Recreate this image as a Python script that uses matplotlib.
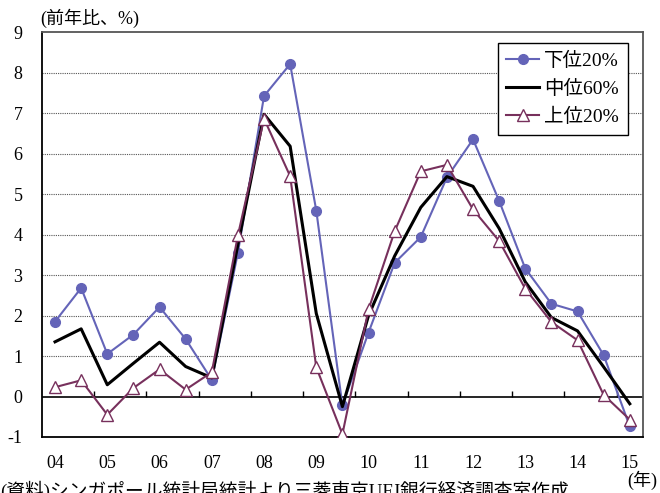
import numpy as np
import matplotlib.pyplot as plt

plt.rcParams['font.family'] = ['Liberation Serif', 'Noto Sans CJK JP']

# half-year points, 2004 - 2015
years = ["04", "05", "06", "07", "08", "09", "10", "11", "12", "13", "14", "15"]
lower20 = [1.85, 2.68, 1.05, 1.53, 2.21, 1.42, 0.41, 3.55, 7.42, 8.21, 4.59, -0.22,
           1.58, 3.30, 3.94, 5.41, 6.35, 4.83, 3.16, 2.29, 2.10, 1.02, -0.74]
middle60 = [1.35, 1.67, 0.29, 0.82, 1.34, 0.74, 0.46, 3.75, 6.97, 6.18, 2.05, -0.25,
            2.00, 3.47, 4.67, 5.43, 5.19, 4.15, 2.83, 1.95, 1.62, 0.73, -0.18]
upper20 = [0.23, 0.40, -0.45, 0.21, 0.67, 0.17, 0.60, 3.98, 6.86, 5.44, 0.72, -0.93,
           2.15, 4.08, 5.56, 5.72, 4.62, 3.84, 2.66, 1.84, 1.39, 0.04, -0.57]

x = np.arange(len(lower20))

fig = plt.figure(figsize=(6.6, 4.93), dpi=100)
ax = fig.add_axes([0.0636, 0.1136, 0.9104, 0.8214])

ax.plot(x, lower20, '-o', color='#6464b8', lw=1.5, ms=7, label='下位20%', zorder=3)
ax.plot(x, middle60, '-', color='black', lw=2.2, label='中位60%', zorder=4)
ax.plot(x, upper20, '-^', color='#77305c', lw=1.5, ms=8, mfc='white', mec='#77305c',
        label='上位20%', zorder=5)

ax.set_xlim(-0.5, len(x) - 0.5)
ax.set_ylim(-1, 9)
ax.set_yticks(range(-1, 10))
ax.set_yticklabels([str(v) for v in range(-1, 10)], fontsize=13)
ax.set_xticks(x[::2])
ax.set_xticklabels(years, fontsize=13)
ax.tick_params(axis='both', length=0)
ax.tick_params(axis='x', pad=13)
ax.tick_params(axis='y', pad=14)

for v in range(1, 9):
    ax.axhline(v, color='#555555', lw=0.8, ls=(0, (1, 1)), zorder=1)
ax.axhline(0, color='black', lw=1.2, zorder=2)
ax.vlines(x[1:-1:2] + 0.5, 0, 0.13, color='black', lw=1.0, zorder=2)

for s in ['left', 'bottom']:
    ax.spines[s].set_color('black')
    ax.spines[s].set_linewidth(1.3)
for s in ['top', 'right']:
    ax.spines[s].set_color('#555555')
    ax.spines[s].set_linewidth(1.3)

leg = ax.legend(loc='upper right', bbox_to_anchor=(0.975, 0.973), fontsize=14,
                fancybox=False, framealpha=1, edgecolor='black', handlelength=1.7,
                handletextpad=0.25, borderpad=0.45, borderaxespad=0,
                labelspacing=0.5, handleheight=0.8)
leg.get_frame().set_linewidth(1.0)

fig.text(40 / 660, 1 - 18 / 493, '(前年比、%)', fontsize=13, va='center', ha='left')
fig.text(627 / 660, 1 - 480 / 493, '(年)', fontsize=13, va='center', ha='left')
fig.text(0.0, 1 - 491 / 493, '(資料)シンガポール統計局統計より三菱東京UFJ銀行経済調査室作成',
         fontsize=13.5, va='center', ha='left')

fig.savefig('out.png', dpi=100)
